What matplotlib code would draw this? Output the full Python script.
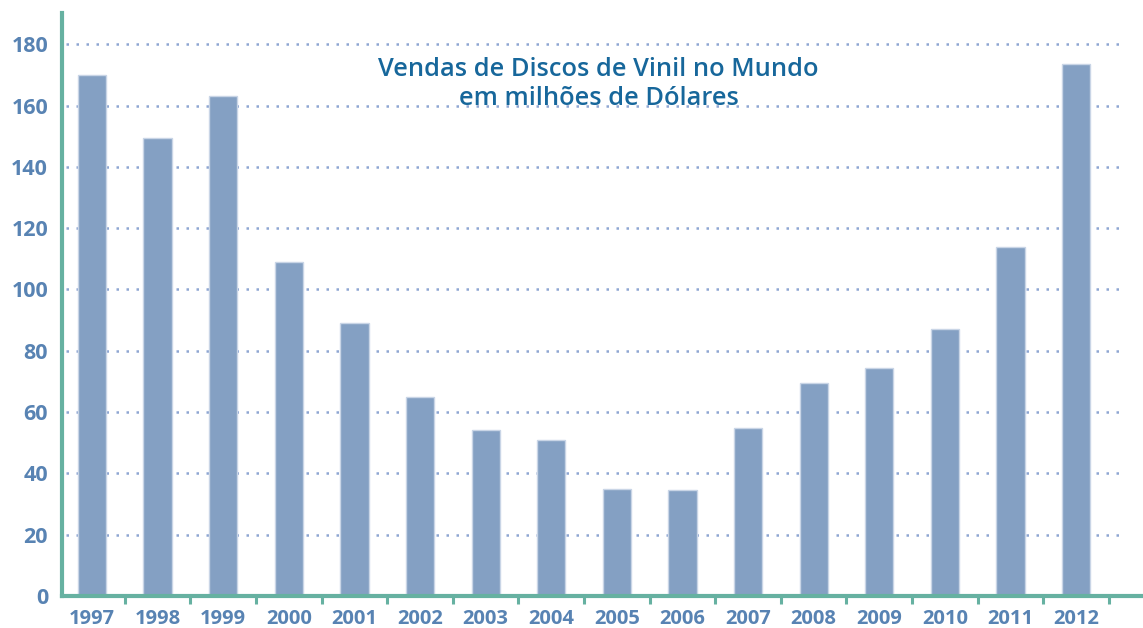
import matplotlib
matplotlib.use("Agg")
import matplotlib.pyplot as plt
import numpy as np

years = ["1997", "1998", "1999", "2000", "2001", "2002", "2003", "2004",
         "2005", "2006", "2007", "2008", "2009", "2010", "2011", "2012"]
sales = [170, 149.4, 163, 109, 89, 65, 54, 51, 35, 34.5, 54.8, 69.5, 74.5, 87, 114, 173.5]
yticks = [0, 20, 40, 60, 80, 100, 120, 140, 160, 180]
title_lines = ["Vendas de Discos de Vinil no Mundo", "em milhões de Dólares"]

plt.rcParams['font.family'] = ['Open Sans', 'DejaVu Sans']

W, H = 1143, 628
fig = plt.figure(figsize=(W / 100, H / 100), dpi=100)
ax = fig.add_axes([62 / W, (628 - 596) / H, (1143 - 62) / W, (596 - 13) / H])

green = "#66b1a1"
bar_c = "#84a0c3"
lab_c = "#5883b3"
grid_c = "#8ea6d2"

x = np.arange(len(years))
ax.set_xlim(-0.457, 16.02)
ax.set_ylim(0, 190.2)

for v in yticks[1:]:
    ax.hlines(v, -0.4, 15.75, colors=grid_c, linestyles=(0, (1, 3.0)), linewidth=1.8, zorder=1)

ax.bar(x, sales, width=0.43, color=bar_c, edgecolor="#c9d5e6", linewidth=1.0, zorder=2)

for s in ["top", "right"]:
    ax.spines[s].set_visible(False)
for s in ["left", "bottom"]:
    ax.spines[s].set_color(green)
    ax.spines[s].set_linewidth(3)
    ax.spines[s].set_zorder(3)

ax.set_yticks(yticks)
ax.set_yticklabels([str(v) for v in yticks])
ax.tick_params(axis="y", length=0, pad=10, labelsize=15.5, labelcolor=lab_c)
for t in ax.get_yticklabels():
    t.set_fontweight("bold")

ax.set_xticks(x + 0.5)
ax.set_xticklabels([])
ax.tick_params(axis="x", which="major", direction="out", length=5.5, width=2.2, color=green)
ax.set_xticks(x, minor=True)
ax.set_xticklabels(years, minor=True)
ax.tick_params(axis="x", which="minor", length=0, pad=9, labelsize=14.5, labelcolor=lab_c)
for t in ax.get_xticklabels(minor=True):
    t.set_fontweight("bold")

ax.text(7.72, 180.5 - 13.5, title_lines[0] + "\n" + title_lines[1], ha="center", va="center",
        fontsize=18.3, color="#17679b", fontweight="semibold", linespacing=1.25, zorder=4)

fig.savefig("out.png", dpi=100)
